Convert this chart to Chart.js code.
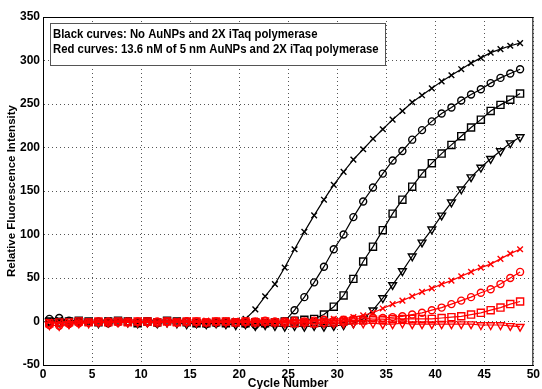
<!DOCTYPE html>
<html>
<head>
<meta charset="UTF-8" />
<script src="https://cdn.jsdelivr.net/npm/chart.js"></script>
<style>
  body { margin: 0; background: #fff; }
  canvas { display: block; }
</style>
</head>
<body>
<canvas id="chart" width="542" height="389"></canvas>
<script>
// cycle positions of the samples (as plotted)
const cycles = [
  0.65, 1.65, 2.65, 3.65, 4.65, 5.65, 6.65, 7.65, 8.65, 9.65,
  10.65, 11.65, 12.65, 13.65, 14.65, 15.65, 16.65, 17.65, 18.65, 19.65,
  20.65, 21.65, 22.65, 23.65, 24.65, 25.65, 26.65, 27.65, 28.65, 29.65,
  30.65, 31.65, 32.65, 33.65, 34.65, 35.65, 36.65, 37.65, 38.65, 39.65,
  40.65, 41.65, 42.65, 43.65, 44.65, 45.65, 46.65, 47.65, 48.65
];

// black curves: no AuNPs
const blackX = [
  1, 2, 0, 0, -1, 0, 1, 0, 0, -1,
  1, 0, 0, 1, 0, -1, 0, 0, 1, 0,
  3, 14, 29, 43, 62, 83, 103, 122, 140, 157,
  172, 186, 198, 210, 221, 232, 242, 252, 260, 268,
  276, 283, 290, 297, 303, 309, 313, 317, 320
];
const blackO = [
  3, 4, 1, 0, -1, 0, -2, -1, 0, -1,
  0, -2, 0, -1, 0, -2, -3, -2, -1, -2,
  -3, -4, -3, -2, 0, 13, 28, 45, 63, 83,
  100, 120, 138, 154, 170, 185, 196, 209, 220, 230,
  239, 246, 254, 261, 267, 274, 280, 285, 290
];
const blackSq = [
  0, -1, 0, 1, 0, -1, 0, 1, 0, -2,
  0, -1, 1, 0, -1, -2, -2, -1, -2, -1,
  -2, -1, -2, -1, 0, 1, 2, 3, 8, 17,
  30, 49, 69, 86, 105, 124, 140, 155, 170, 182,
  193, 203, 213, 223, 232, 242, 249, 255, 262
];
const blackTri = [
  0, -1, -2, 0, -1, -2, -1, 0, -1, -2,
  -1, -2, -1, -2, -3, -2, -3, -2, -3, -4,
  -3, -5, -4, -5, -6, -5, -6, -5, -6, -5,
  -4, -2, 3, 13, 27, 42, 58, 75, 91, 106,
  122, 137, 152, 166, 177, 187, 196, 205, 212
];

// red curves: 13.6 nM of 5 nm AuNPs
const redX = [
  0, -1, 0, -1, 0, 0, -1, 0, 1, 0,
  0, -1, 0, 1, 0, 0, 1, 0, 0, 1,
  0, 1, 1, 0, 1, 2, 1, 2, 2, 3,
  3, 5, 7, 10, 15, 20, 24, 29, 34, 38,
  43, 47, 52, 57, 62, 66, 72, 78, 83
];
const redO = [
  -4, -5, -3, -2, -1, -1, 0, -1, 0, 0,
  -1, 0, 0, -1, 0, 0, -1, 0, 0, -1,
  0, 0, 1, 0, 0, 1, 0, 1, 2, 1,
  2, 3, 3, 4, 4, 5, 6, 8, 10, 13,
  16, 20, 24, 28, 33, 37, 43, 50, 57
];
const redSq = [
  -2, -1, -1, 0, -1, 0, -1, 0, -1, 0,
  0, -1, 0, -1, 0, 0, -1, 0, 0, -1,
  0, -1, 0, -1, -1, -2, -1, -2, -1, -1,
  0, 1, 1, 2, 2, 3, 3, 3, 3, 3,
  4, 5, 6, 8, 10, 13, 16, 20, 23
];
const redTri = [
  -4, -5, -3, -2, -2, -1, -1, -1, -1, -1,
  -1, -1, -1, -1, -1, -1, -1, -1, -1, -1,
  -1, -1, -1, -1, -2, -1, -2, -2, -2, -2,
  -2, -2, -2, -2, -3, -3, -2, -3, -3, -3,
  -3, -3, -3, -3, -4, -4, -4, -5, -6
];

const legendLines = [
  'Black curves: No AuNPs and 2X iTaq polymerase',
  'Red curves: 13.6 nM of 5 nm AuNPs and 2X iTaq polymerase',
];

const FONT = '"Liberation Sans", Arial, sans-serif';

function series(values, color, style, radius, order) {
  return {
    data: values.map((v, i) => ({ x: cycles[i], y: v })),
    borderColor: color,
    borderWidth: 1.2,
    pointStyle: style,
    pointRadius: radius,
    pointRotation: style === 'triangle' ? 180 : 0,
    pointBorderColor: color,
    pointBackgroundColor: 'rgba(0,0,0,0)',
    pointBorderWidth: 1.4,
    fill: false,
    tension: 0,
    order,
  };
}

// frame round the plot + text box in the top-left corner
const decor = {
  id: 'decor',
  afterDraw(chart) {
    const { ctx, chartArea: a } = chart;
    ctx.save();
    ctx.strokeStyle = '#000';
    ctx.lineWidth = 1;
    ctx.strokeRect(a.left + 0.5, a.top + 0.5, a.right - a.left - 1, a.bottom - a.top);

    const bx = a.left + 7, by = a.top + 6;
    ctx.fillStyle = '#fff';
    ctx.fillRect(bx, by, 335, 42);
    ctx.strokeStyle = '#555';
    ctx.strokeRect(bx + 0.5, by + 0.5, 335, 42);
    ctx.fillStyle = '#000';
    ctx.font = 'bold 12px ' + FONT;
    ctx.textBaseline = 'alphabetic';
    legendLines.forEach((t, i) => {
      ctx.save();
      ctx.translate(bx + 3, by + 15 + i * 15);
      ctx.scale(0.945, 1);
      ctx.fillText(t, 0, 0);
      ctx.restore();
    });
    ctx.restore();
  },
};

const tickFont = { family: FONT, size: 12, weight: 'bold' };
const gridOpts = { color: '#555', drawTicks: false };
const borderOpts = { color: '#000', dash: [1, 3] };

new Chart(document.getElementById('chart'), {
  type: 'line',
  data: {
    datasets: [
      series(blackX, '#000', 'crossRot', 4, 1),
      series(blackO, '#000', 'circle', 3.5, 1),
      series(blackSq, '#000', 'rect', 5, 1),
      series(blackTri, '#000', 'triangle', 4.5, 1),
      series(redX, '#ff0000', 'crossRot', 4, 0),
      series(redO, '#ff0000', 'circle', 3.5, 0),
      series(redSq, '#ff0000', 'rect', 5, 0),
      series(redTri, '#ff0000', 'triangle', 4.5, 0),
    ],
  },
  options: {
    responsive: false,
    animation: false,
    layout: { padding: { left: 0, right: 6, top: 17, bottom: 0 } },
    plugins: { legend: { display: false }, tooltip: { enabled: false } },
    scales: {
      x: {
        type: 'linear',
        min: 0,
        max: 50,
        ticks: { stepSize: 5, font: tickFont, color: '#000', padding: 2, maxRotation: 0 },
        grid: gridOpts,
        border: borderOpts,
        title: { display: true, text: 'Cycle Number', color: '#000',
          font: { family: FONT, size: 12, weight: 'bold', lineHeight: 1 }, padding: { top: 0, bottom: -1 } },
        afterFit(scale) { scale.height = 24; },
      },
      y: {
        min: -50,
        max: 350,
        ticks: { stepSize: 50, font: tickFont, color: '#000', padding: 3 },
        grid: gridOpts,
        border: borderOpts,
        title: { display: true, text: 'Relative Fluorescence Intensity', color: '#000',
          font: { family: FONT, size: 11.5, weight: 'bold', lineHeight: 1 }, padding: { top: 6, bottom: 0 } },
        afterFit(scale) { scale.width = 43; },
      },
    },
  },
  plugins: [decor],
});
</script>
</body>
</html>
